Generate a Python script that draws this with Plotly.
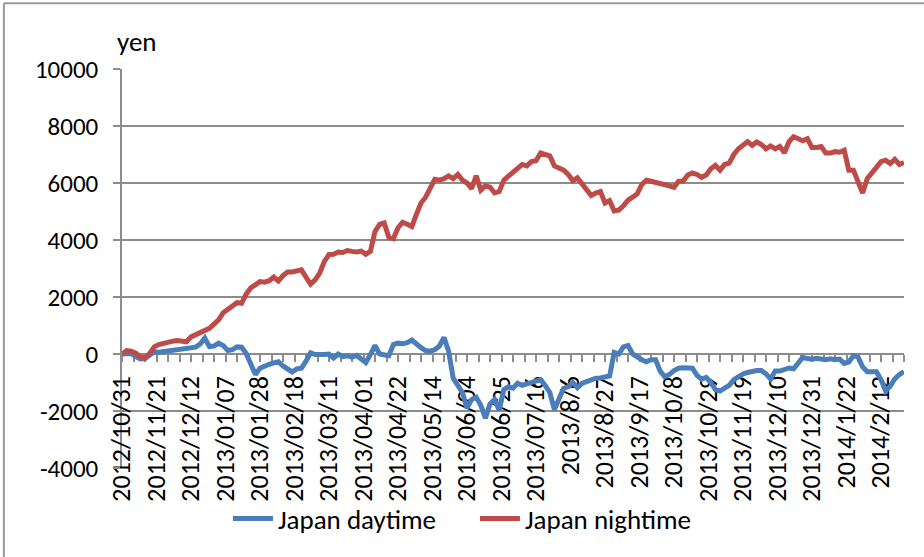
import plotly.graph_objects as go

# Trading-day index of each sample (every second session)
day_step = 2

# Cumulative profit (yen), Japan daytime session
daytime = [
    0, 30, 20, -90, -170, -160, -40, 80, 60, 80,
    100, 120, 140, 160, 170, 210, 240, 350, 560, 260,
    280, 380, 300, 120, 150, 250, 240, 20, -380, -720,
    -500, -420, -360, -310, -270, -420, -540, -630, -520, -500,
    -250, 40, -20, -30, -20, 0, -140, 0, -90, -60,
    -110, -50, -200, -300, -20, 300, 0, -20, -60, 330,
    380, 360, 400, 490, 340, 220, 120, 100, 150, 280,
    580, 100, -850, -1100, -1350, -1900, -1600, -1520, -1800, -2250,
    -1750, -1600, -1970, -1250, -1150, -1200, -1030, -1100, -1050, -1030,
    -980, -900, -1100, -1350, -1950, -1600, -1200, -1150, -1000, -1180,
    -1030, -970, -900, -850, -840, -800, -770, 50, 0, 250,
    300, 0, -120, -200, -270, -200, -200, -600, -800, -720,
    -580, -500, -480, -480, -500, -750, -880, -820, -1000, -1250,
    -1300, -1200, -1100, -900, -780, -700, -650, -610, -580, -580,
    -700, -880, -600, -600, -560, -490, -520, -300, -120, -160,
    -180, -150, -180, -200, -170, -200, -180, -330, -280, -60,
    -100, -450, -620, -640, -620, -900, -1300, -1130, -870, -720,
    -620,
]

# Cumulative profit (yen), Japan nighttime session
nighttime = [
    0, 120, 100, 30, -100, -140, 20, 250, 330, 380,
    400, 450, 470, 440, 430, 600, 680, 720, 800, 900,
    1050, 1200, 1450, 1560, 1660, 1800, 1780, 2100, 2320, 2450,
    2540, 2520, 2570, 2700, 2560, 2750, 2880, 2880, 2920, 2950,
    2700, 2450, 2600, 2850, 3250, 3490, 3500, 3580, 3560, 3630,
    3600, 3580, 3610, 3500, 3600, 4300, 4550, 4600, 4100, 4050,
    4430, 4620, 4550, 4470, 4900, 5300, 5500, 5850, 6130, 6100,
    6150, 6250, 6150, 6300, 6100, 6000, 5800, 6250, 5750, 5900,
    5850, 5650, 5700, 6100, 6250, 6350, 6550, 6650, 6600, 6750,
    6780, 7050, 7000, 6950, 6600, 6520, 6450, 6300, 6080, 6180,
    5950, 5750, 5560, 5650, 5700, 5300, 5380, 5020, 5050, 5200,
    5400, 5500, 5620, 5950, 6100, 6060, 6030, 6000, 5960, 5900,
    5850, 6060, 6070, 6280, 6350, 6300, 6200, 6280, 6500, 6620,
    6450, 6650, 6700, 7000, 7200, 7300, 7450, 7320, 7440, 7350,
    7200, 7300, 7200, 7280, 7060, 7450, 7620, 7550, 7480, 7550,
    7250, 7250, 7280, 7050, 7050, 7100, 7080, 7150, 6450, 6450,
    6100, 5650, 6150, 6350, 6550, 6750, 6800, 6680, 6830, 6650,
    6720,
]

# Date labels, one every 15 trading days
date_labels = [
    "2012/10/31", "2012/11/21", "2012/12/12", "2013/01/07", "2013/01/28",
    "2013/02/18", "2013/03/11", "2013/04/01", "2013/04/22", "2013/05/14",
    "2013/06/04", "2013/06/25", "2013/07/16", "2013/8/6", "2013/8/27",
    "2013/9/17", "2013/10/8", "2013/10/29", "2013/11/19", "2013/12/10",
    "2013/12/31", "2014/1/22", "2014/2/12",
]
label_every = 15

# Value axis ticks
y_ticks = [-4000, -2000, 0, 2000, 4000, 6000, 8000, 10000]
y_tick_text = [str(v) for v in y_ticks]

days = [i * day_step for i in range(len(daytime))]
label_pos = [i * label_every for i in range(len(date_labels))]

FONT = "Carlito, Calibri, 'Liberation Sans', Arial, sans-serif"
GRID = "#8c8c8c"

fig = go.Figure()
fig.add_trace(go.Scatter(
    x=days, y=daytime, mode="lines", name="Japan daytime",
    line=dict(color="#4A7EBB", width=5),
))
fig.add_trace(go.Scatter(
    x=days, y=nighttime, mode="lines", name="Japan nightime",
    line=dict(color="#BE4B48", width=5),
))

# x axis crosses the value axis at zero
y_lo, y_hi = y_ticks[0], y_ticks[-1]
zero_frac = (0 - y_lo) / (y_hi - y_lo)

fig.update_layout(
    width=924, height=557,
    margin=dict(l=122, r=20, t=69, b=89),
    paper_bgcolor="white", plot_bgcolor="white",
    font=dict(family=FONT, size=26, color="black"),
    showlegend=True,
    legend=dict(
        orientation="h", x=0.1355, xanchor="left", y=-0.128, yanchor="middle",
        font=dict(size=27), bgcolor="rgba(0,0,0,0)", itemwidth=40,
        entrywidth=192, entrywidthmode="pixels",
    ),
    xaxis=dict(
        range=[0, days[-1]],
        anchor="free", position=zero_frac,
        tickmode="array", tickvals=label_pos, ticktext=date_labels,
        tickangle=-90, ticks="outside", ticklen=7, tickwidth=1.5, tickcolor=GRID,
        minor=dict(tickmode="linear", tick0=0, dtick=5, ticks="outside",
                   ticklen=7, tickwidth=1.5, tickcolor=GRID, showgrid=False),
        showline=True, linecolor=GRID, linewidth=1.5,
        showgrid=False, zeroline=False, layer="below traces",
        tickfont=dict(size=26),
        ticklabelstandoff=4,
    ),
    yaxis=dict(
        range=[y_lo, y_hi],
        tickmode="array", tickvals=y_ticks, ticktext=y_tick_text,
        showgrid=True, gridcolor=GRID, gridwidth=1.5,
        showline=True, linecolor=GRID, linewidth=1.5,
        ticks="outside", ticklen=7, tickwidth=1.5, tickcolor=GRID,
        zeroline=False, layer="below traces",
        tickfont=dict(size=25),
        ticklabelstandoff=10,
    ),
    annotations=[dict(
        text="yen", xref="paper", yref="paper", x=-0.009, y=1.068,
        xanchor="left", yanchor="middle", showarrow=False,
        font=dict(size=27),
    )],
    shapes=[
        dict(type="line", xref="paper", yref="paper",
             x0=-0.151, x1=1.03, y0=1.165, y1=1.165,
             line=dict(color="#9a9a9a", width=2)),
        dict(type="line", xref="paper", yref="paper",
             x0=-0.151, x1=-0.151, y0=1.165, y1=-0.23,
             line=dict(color="#9a9a9a", width=2)),
    ],
)

fig.write_html("out.html")
